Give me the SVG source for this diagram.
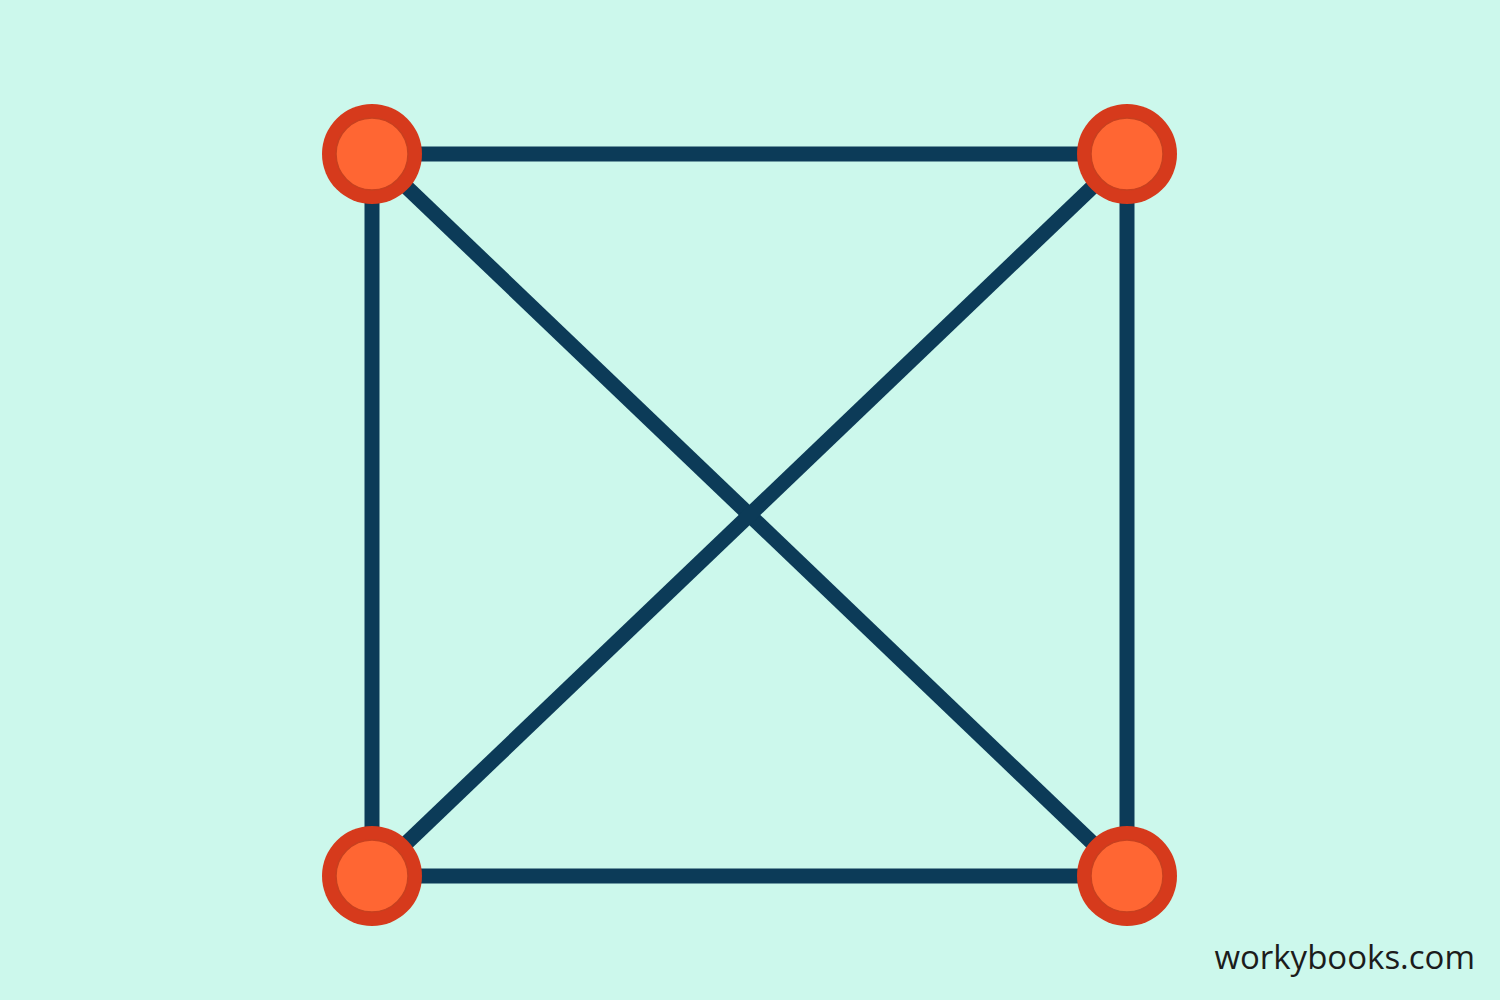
<svg xmlns="http://www.w3.org/2000/svg" width="1500" height="1000" viewBox="0 0 1500 1000">
<style>
.edge{stroke:#0c3b58;stroke-width:15;fill:none}
.outer{fill:#d63a1c}
.inner{fill:#ff6633;stroke:#c8401f;stroke-width:1.5}
.wm{font-family:"Open Sans","Noto Sans",sans-serif;font-size:33px;fill:#1c1c1c}
</style>
<rect width="1500" height="1000" fill="#ccf8ec"/>
<g id="connectors">
<line class="edge" x1="372" y1="154" x2="1127" y2="154"/>
<line class="edge" x1="372" y1="876" x2="1127" y2="876"/>
<line class="edge" x1="372" y1="154" x2="372" y2="876"/>
<line class="edge" x1="1127" y1="154" x2="1127" y2="876"/>
<line class="edge" x1="372" y1="154" x2="1127" y2="876"/>
<line class="edge" x1="1127" y1="154" x2="372" y2="876"/>
</g>
<g id="node-tl"><circle class="outer" cx="372" cy="154" r="50"/><circle class="inner" cx="372" cy="154" r="36"/></g>
<g id="node-tr"><circle class="outer" cx="1127" cy="154" r="50"/><circle class="inner" cx="1127" cy="154" r="36"/></g>
<g id="node-bl"><circle class="outer" cx="372" cy="876" r="50"/><circle class="inner" cx="372" cy="876" r="36"/></g>
<g id="node-br"><circle class="outer" cx="1127" cy="876" r="50"/><circle class="inner" cx="1127" cy="876" r="36"/></g>
<text class="wm" x="1475" y="969" text-anchor="end">workybooks.com</text>
</svg>
